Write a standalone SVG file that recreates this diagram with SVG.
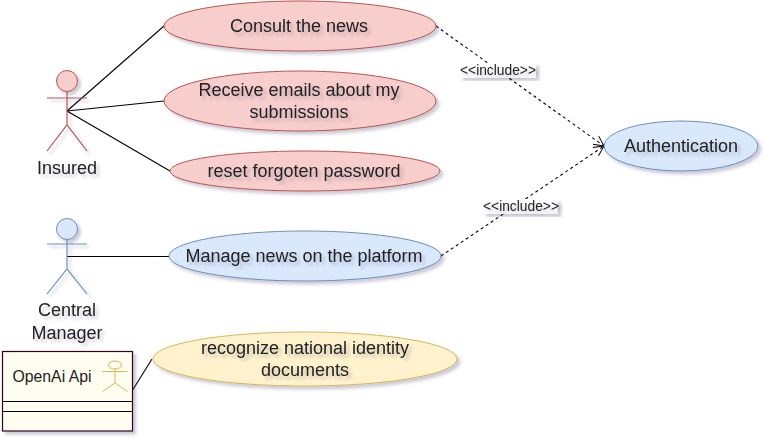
<svg xmlns="http://www.w3.org/2000/svg" width="767" height="439" viewBox="0 0 767 439">
<defs>
<filter id="sh" x="-20%" y="-20%" width="140%" height="140%"><feDropShadow dx="3" dy="3" stdDeviation="1.6" flood-color="#2a2a60" flood-opacity="0.25"/></filter>
<marker id="open" markerWidth="12" markerHeight="12" refX="10" refY="5" orient="auto" markerUnits="userSpaceOnUse" overflow="visible"><path d="M0 0L10 5L0 10" fill="none" stroke="#000" stroke-width="1"/></marker>
</defs>
<style>
text{font-family:"Liberation Sans",Arial,sans-serif;font-size:18px;fill:#222;text-anchor:middle;filter:url(#sh)}
.red{fill:#f8cecc;stroke:#b85450;stroke-width:1}
.blue{fill:#dae8fc;stroke:#6c8ebf;stroke-width:1}
.yel{fill:#fff2cc;stroke:#d6b656;stroke-width:1}
.sh{filter:url(#sh)}
.con{fill:none;stroke:#000;stroke-width:1.1}
.dash{stroke-dasharray:3 3;marker-end:url(#open)}
.lab{font-size:13.800px}
.lbg{fill:#fff;filter:url(#sh)}
.a{fill:none;stroke-width:1.200;filter:url(#sh)}
</style>
<g id="connectors">
<path class="con" d="M67 111L164 26"/>
<path class="con" d="M67 111L164 101"/>
<path class="con" d="M67 111L170 171"/>
<path class="con" d="M67 256.500H169"/>
<path class="con" d="M132 391L152 359"/>
<path class="con dash" d="M436 26L604 146"/>
<path class="con dash" d="M441 256L604 146"/>
<rect class="lbg" x="460" y="63" width="76" height="15"/>
<text class="lab" x="498" y="75">&lt;&lt;include&gt;&gt;</text>
<rect class="lbg" x="483" y="199" width="75" height="15"/>
<text class="lab" x="521" y="211">&lt;&lt;include&gt;&gt;</text>
</g>
<g id="actor-insured">
<circle class="red sh" cx="67" cy="81" r="10.500"/>
<path class="a" stroke="#b85450" d="M67 91.500V125M47 98H87M47 151L67 125L87 151"/>
<text x="67" y="174">Insured</text>
</g>
<g id="actor-central">
<circle class="blue sh" cx="67" cy="229" r="10.500"/>
<path class="a" stroke="#6c8ebf" d="M67 239.500V269M47 244H87M47 294L67 269L87 294"/>
<text x="67" y="316">Central</text>
<text x="67" y="339">Manager</text>
</g>
<g id="uc-consult"><ellipse class="red sh" cx="300" cy="26" rx="136" ry="25"/><text x="299" y="32">Consult the news</text></g>
<g id="uc-emails"><ellipse class="red sh" cx="300" cy="101" rx="136" ry="30"/><text x="299" y="96">Receive emails about my</text><text x="299" y="118">submissions</text></g>
<g id="uc-reset"><ellipse class="red sh" cx="305" cy="171" rx="135" ry="20"/><text x="304" y="177">reset forgoten password</text></g>
<g id="uc-manage"><ellipse class="blue sh" cx="305" cy="256" rx="136" ry="25"/><text x="304" y="262">Manage news on the platform</text></g>
<g id="uc-auth"><ellipse class="blue sh" cx="681" cy="146" rx="77" ry="25"/><text x="681" y="152">Authentication</text></g>
<g id="uc-recognize"><ellipse class="yel sh" cx="305" cy="359" rx="152" ry="27"/><text x="305" y="354">recognize national identity</text><text x="305" y="376">documents</text></g>
<g id="openai">
<rect class="sh" x="2.500" y="351.500" width="130" height="79.500" fill="#fffdf0" stroke="#33001a" stroke-width="1.200"/>
<path class="con" d="M2.500 401.500H132.500M2.500 411.500H132.500"/>
<text x="52" y="382" style="font-size:15.800px;filter:none">OpenAi Api</text>
<ellipse cx="115" cy="365" rx="6.500" ry="4" fill="none" stroke="#d6b656"/>
<path fill="none" stroke="#d6b656" d="M115 369V383M102.500 371.500H127.500M102.500 391.500L115 383L127.500 391.500"/>
</g>
</svg>
